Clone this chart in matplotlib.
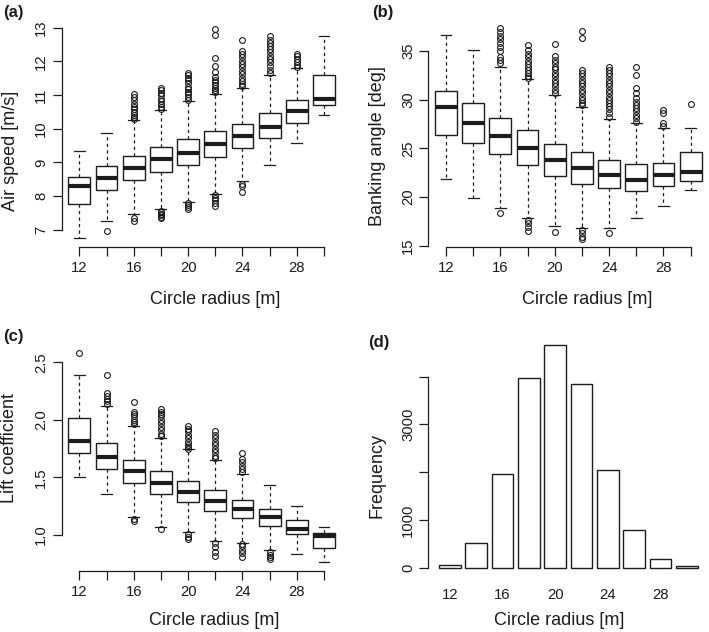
import matplotlib
matplotlib.use("Agg")
import matplotlib.pyplot as plt

plt.rcParams['font.family'] = ['Liberation Sans', 'DejaVu Sans']

radius = [12, 14, 16, 18, 20, 22, 24, 26, 28, 30]
radius_labels = ["12", "", "16", "", "20", "", "24", "", "28", ""]

# (a) Air speed [m/s]
speed_whislo = [6.75, 7.25, 7.48, 7.62, 7.82, 8.05, 8.45, 8.91, 9.59, 10.42]
speed_q1 = [7.77, 8.19, 8.48, 8.72, 8.92, 9.16, 9.44, 9.72, 10.16, 10.71]
speed_med = [8.31, 8.55, 8.84, 9.09, 9.28, 9.54, 9.79, 10.06, 10.53, 10.89]
speed_q3 = [8.57, 8.90, 9.20, 9.46, 9.68, 9.92, 10.15, 10.47, 10.84, 11.61]
speed_whishi = [9.35, 9.86, 10.26, 10.56, 10.81, 11.02, 11.22, 11.61, 11.80, 12.76]
speed_fliers = [
    [],
    [6.96],
    [11.02, 10.93, 10.84, 10.74, 10.66, 10.58, 10.49, 10.41, 10.35, 10.30, 7.35, 7.27],
    [11.21, 11.14, 11.07, 11.00, 10.89, 10.82, 10.74, 10.66, 10.59,
     7.57, 7.52, 7.47, 7.43, 7.38, 7.35],
    [11.66, 11.60, 11.52, 11.44, 11.35, 11.25, 11.18, 11.10, 11.02, 10.94, 10.86,
     7.79, 7.73, 7.67, 7.61],
    [12.95, 12.79, 12.10, 11.85, 11.68, 11.55, 11.45, 11.38, 11.30, 11.22, 11.15, 11.08,
     8.02, 7.95, 7.88, 7.80, 7.69],
    [12.64, 12.32, 12.22, 12.12, 12.02, 11.92, 11.82, 11.72, 11.62, 11.52, 11.42, 11.34, 11.26,
     8.37, 8.30, 8.12],
    [12.74, 12.64, 12.56, 12.47, 12.37, 12.27, 12.17, 12.07, 11.97, 11.87, 11.75, 11.67],
    [12.23, 12.15, 12.07, 11.98, 11.90, 11.84],
    [],
]

# (b) Banking angle [deg]
bank_whislo = [21.88, 19.86, 18.84, 17.81, 17.05, 16.78, 16.82, 17.81, 19.11, 20.77]
bank_q1 = [26.34, 25.58, 24.38, 23.25, 22.16, 21.37, 20.89, 20.58, 21.10, 21.60]
bank_med = [29.25, 27.64, 26.23, 25.07, 23.80, 22.95, 22.23, 21.78, 22.23, 22.56]
bank_q3 = [30.92, 29.62, 28.08, 26.85, 25.48, 24.59, 23.77, 23.42, 23.49, 24.59]
bank_whishi = [36.68, 35.07, 33.39, 32.12, 30.52, 29.28, 28.05, 27.57, 27.12, 27.06]
bank_fliers = [
    [],
    [],
    [37.36, 36.9, 36.5, 36.2, 35.8, 35.4, 35.0, 34.4, 34.1, 33.8, 18.32],
    [35.58, 35.1, 34.7, 34.4, 34.0, 33.7, 33.4, 33.0, 32.7, 32.4, 32.25,
     17.64, 17.30, 16.95, 16.54],
    [35.68, 34.5, 34.1, 33.8, 33.4, 33.1, 32.7, 32.4, 32.0, 31.7, 31.4, 31.0, 30.7, 16.40],
    [37.05, 36.37, 33.05, 32.7, 32.4, 32.0, 31.7, 31.4, 31.0, 30.7, 30.3, 30.0, 29.7, 29.45,
     16.61, 16.27, 15.92, 15.65],
    [33.32, 33.05, 32.7, 32.4, 32.0, 31.7, 31.4, 31.0, 30.7, 30.3, 30.0, 29.7, 29.3, 29.0,
     28.6, 28.25, 16.27],
    [33.32, 32.53, 31.16, 30.65, 30.14, 29.8, 29.45, 29.1, 28.8, 28.4, 28.1, 27.75],
    [28.94, 28.6, 27.57, 27.3],
    [29.57],
]

# (c) Lift coefficient
lift_whislo = [1.507, 1.357, 1.154, 1.067, 1.024, 0.950, 0.931, 0.868, 0.839, 0.766]
lift_q1 = [1.716, 1.571, 1.449, 1.354, 1.282, 1.210, 1.145, 1.076, 1.006, 0.885]
lift_med = [1.817, 1.681, 1.553, 1.449, 1.374, 1.299, 1.227, 1.160, 1.056, 0.992]
lift_q3 = [2.017, 1.797, 1.655, 1.553, 1.473, 1.389, 1.305, 1.227, 1.128, 1.018]
lift_whishi = [2.387, 2.121, 1.950, 1.843, 1.745, 1.652, 1.527, 1.435, 1.250, 1.070]
lift_fliers = [
    [2.578],
    [2.39, 2.23, 2.21, 2.18, 2.16, 2.14],
    [2.156, 2.07, 2.05, 2.03, 2.00, 1.98, 1.96, 1.137, 1.117],
    [2.095, 2.07, 2.05, 2.03, 2.00, 1.97, 1.94, 1.91, 1.88, 1.86, 1.053],
    [1.947, 1.92, 1.90, 1.87, 1.84, 1.81, 1.78, 1.76, 1.75, 1.007, 0.986, 0.963],
    [1.907, 1.87, 1.84, 1.81, 1.78, 1.75, 1.72, 1.69, 1.67, 0.93, 0.894, 0.856, 0.813],
    [1.716, 1.658, 1.63, 1.60, 1.57, 1.545, 0.92, 0.90, 0.87, 0.84, 0.807],
    [0.853, 0.827, 0.807, 0.79],
    [],
    [],
]

# (d) Frequency of circle radius
frequency = [56, 523, 1958, 3965, 4669, 3840, 2049, 788, 181, 35]

W, H = 709, 632
INK = '#1c1c1c'
TICK_FS = 10.7


def rect(x0, y0, x1, y1):
    return [x0 / W, 1 - y1 / H, (x1 - x0) / W, (y1 - y0) / H]


def ftext(x, y, s, **kw):
    fig.text(x / W, 1 - y / H, s, color=INK, **kw)


fig = plt.figure(figsize=(W / 100, H / 100), dpi=100)


def boxpanel(ax, whislo, q1, med, q3, whishi, fliers, ylim, yticks, ylabels):
    stats = []
    for i in range(len(radius)):
        stats.append(dict(whislo=whislo[i], q1=q1[i], med=med[i], q3=q3[i],
                          whishi=whishi[i], fliers=fliers[i]))
    pos = list(range(1, len(radius) + 1))
    ax.bxp(stats, positions=pos, widths=0.8, capwidths=0.4, patch_artist=True,
           boxprops=dict(facecolor='white', edgecolor=INK, linewidth=1.0),
           medianprops=dict(color=INK, linewidth=3.0, solid_capstyle='butt'),
           whiskerprops=dict(color=INK, linewidth=0.9, linestyle=(0, (2.6, 2.6))),
           capprops=dict(color=INK, linewidth=0.9),
           flierprops=dict(marker='o', markerfacecolor='none', markeredgecolor=INK,
                           markersize=4.2, markeredgewidth=0.8, linestyle='none'))
    ax.set_xlim(0.35, 10.65)
    ax.set_ylim(*ylim)
    ax.set_xticks(pos)
    ax.set_xticklabels(radius_labels)
    ax.set_yticks(yticks)
    ax.set_yticklabels(ylabels, rotation=90, va='center')
    for s in ('top', 'right'):
        ax.spines[s].set_visible(False)
    ax.spines['bottom'].set_bounds(pos[0], pos[-1])
    ax.spines['left'].set_bounds(yticks[0], yticks[-1])
    for s in ('bottom', 'left'):
        ax.spines[s].set_color(INK)
        ax.spines[s].set_linewidth(0.9)
    ax.tick_params(axis='both', direction='out', length=6.2, width=0.9, colors=INK,
                   labelsize=TICK_FS)
    ax.tick_params(axis='x', pad=4.0)
    ax.tick_params(axis='y', pad=3.4)
    ax.patch.set_visible(False)


ax_a = fig.add_axes(rect(61.7, 20, 341.7, 246.7))
boxpanel(ax_a, speed_whislo, speed_q1, speed_med, speed_q3, speed_whishi, speed_fliers,
         (6.495, 13.23), [7, 8, 9, 10, 11, 12, 13], ["7", "8", "9", "10", "11", "12", "13"])

ax_b = fig.add_axes(rect(428.3, 20, 708.3, 246.7))
boxpanel(ax_b, bank_whislo, bank_q1, bank_med, bank_q3, bank_whishi, bank_fliers,
         (14.9, 38.18), [15, 20, 25, 30, 35], ["15", "20", "25", "30", "35"])

ax_c = fig.add_axes(rect(61.7, 345, 341.7, 571))
boxpanel(ax_c, lift_whislo, lift_q1, lift_med, lift_q3, lift_whishi, lift_fliers,
         (0.687, 2.65), [1.0, 1.5, 2.0, 2.5], ["1.0", "1.5", "2.0", "2.5"])

# (d) bar chart
ax_d = fig.add_axes(rect(428.3, 335, 709, 571))
bar_x = [0.7 + 1.2 * i for i in range(len(radius))]
ax_d.bar(bar_x, frequency, width=1.0, facecolor='white', edgecolor=INK, linewidth=1.0)
ax_d.set_xlim(-0.28, 12.51)
ax_d.set_ylim(-62.7, 4871)
ax_d.set_xticks(bar_x)
ax_d.set_xticklabels(radius_labels)
ax_d.set_yticks([0, 1000, 2000, 3000, 4000])
ax_d.set_yticklabels(["0", "1000", "", "3000", ""], rotation=90, va='center')
for s in ('top', 'right', 'bottom'):
    ax_d.spines[s].set_visible(False)
ax_d.spines['left'].set_bounds(0, 4000)
ax_d.spines['left'].set_color(INK)
ax_d.spines['left'].set_linewidth(0.9)
ax_d.tick_params(axis='x', length=0, pad=12, labelsize=TICK_FS, colors=INK)
ax_d.tick_params(axis='y', direction='out', length=6.2, width=0.9, colors=INK,
                 labelsize=TICK_FS, pad=3.4)
ax_d.patch.set_visible(False)

# axis labels
lab = dict(fontsize=13)
ftext(215, 304, "Circle radius [m]", ha='center', va='baseline', **lab)
ftext(587.5, 304, "Circle radius [m]", ha='center', va='baseline', **lab)
ftext(214, 625, "Circle radius [m]", ha='center', va='baseline', **lab)
ftext(559, 625, "Circle radius [m]", ha='center', va='baseline', **lab)
ftext(10.5, 151, "Air speed [m/s]", rotation=90, ha='center', va='center', **lab)
ftext(377.5, 146, "Banking angle [deg]", rotation=90, ha='center', va='center', **lab)
ftext(10, 448, "Lift coefficient", rotation=90, ha='center', va='center', **lab)
ftext(377.5, 476, "Frequency", rotation=90, ha='center', va='center', **lab)

# panel tags
tag = dict(fontsize=12, fontweight='bold', ha='left', va='baseline')
ftext(3, 16.5, "(a)", **tag)
ftext(371.7, 16.5, "(b)", **tag)
ftext(3, 341, "(c)", **tag)
ftext(368.3, 347, "(d)", **tag)

fig.savefig("out.png", dpi=100, facecolor='white')
